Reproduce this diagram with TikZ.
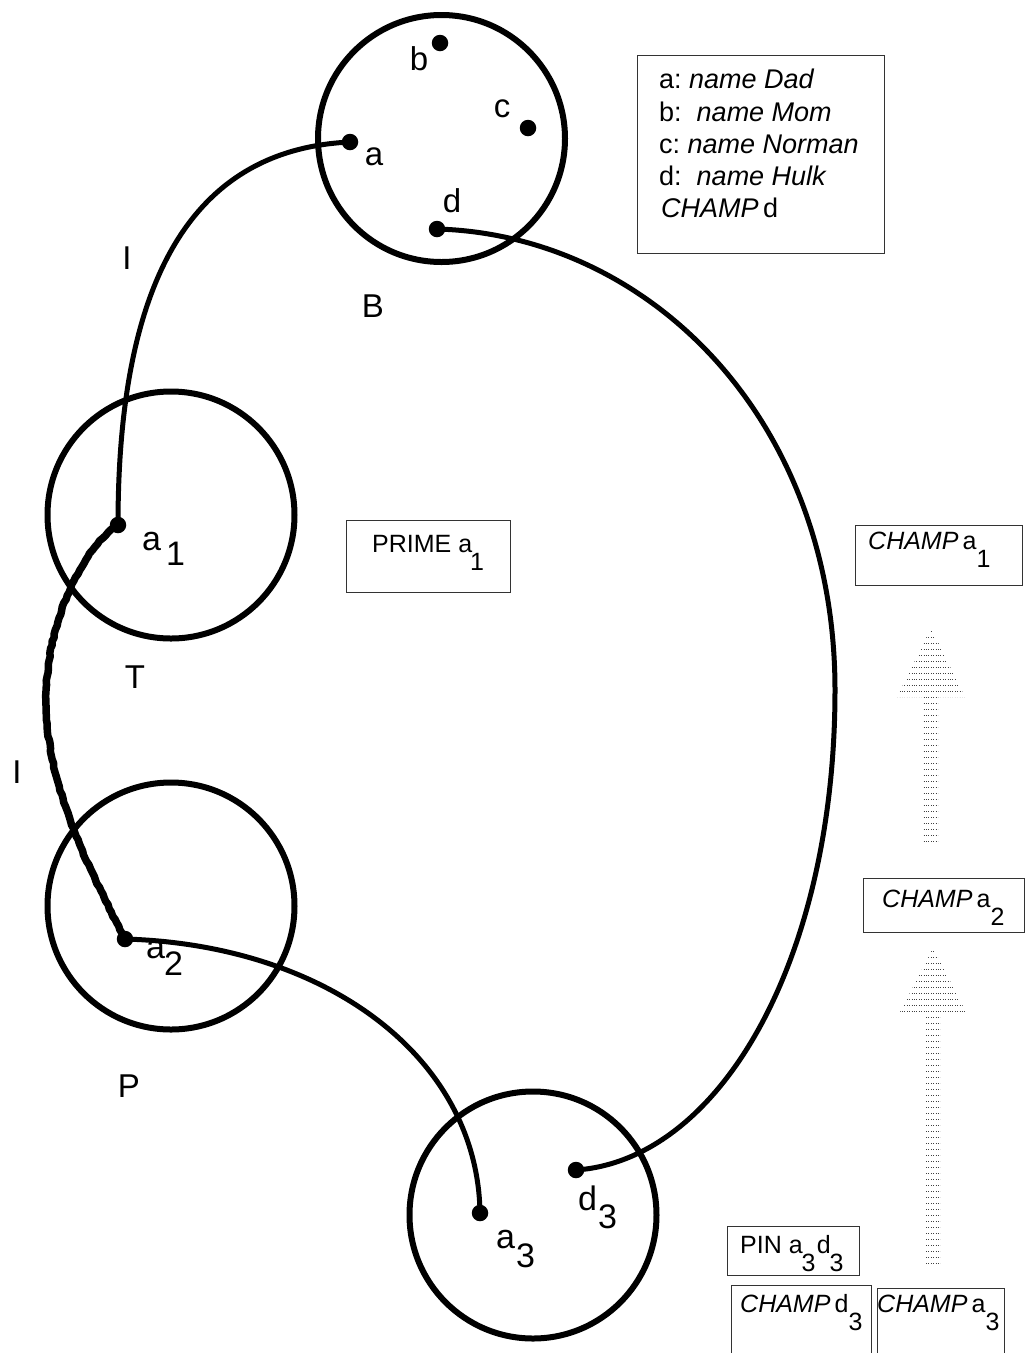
\documentclass[tikz,border=0pt]{standalone}
\usepackage{fontspec}
\setmainfont{Liberation Sans}
\usetikzlibrary{decorations.pathmorphing}
\newcommand\mybsub[1]{\raisebox{-0.75em}{#1}}
\begin{document}
\begin{tikzpicture}[x=1pt,y=-1pt,
  ring/.style={circle,draw,line width=6pt,minimum size=247pt,inner sep=0pt},
  blob/.style={circle,fill,inner sep=0pt,minimum size=16.5pt},
  lbl/.style={font=\fontsize{33}{38}\selectfont,inner sep=0pt,anchor=base},
  lbls/.style={font=\fontsize{34}{40}\selectfont,inner sep=0pt,anchor=base west},
  bxt/.style={font=\fontsize{25}{30}\selectfont,inner sep=0pt,anchor=base west},
  lgt/.style={font=\fontsize{27}{30}\selectfont,inner sep=0pt,anchor=base west},
  frame/.style={draw=black!80,line width=1.3pt,inner sep=0pt,anchor=north west},
  conn/.style={line width=5pt},
  dotrow/.style={black!75,line width=0.9pt,dash pattern=on 0.9pt off 1.5pt},
]
\useasboundingbox (0,0) rectangle (1025,1353);

% circles
\node[ring] (B) at (441.5,138.5) {};
\node[ring] (T) at (171,515) {};
\node[ring] (P) at (171,906) {};
\node[ring] (Q) at (533,1215) {};

% points
\node[blob] (b) at (440,43) {};
\node[blob] (c) at (528,128) {};
\node[blob] (a) at (350,142) {};
\node[blob] (d) at (437,229) {};
\node[blob] (a1) at (118,525) {};
\node[blob] (a2) at (125,939) {};
\node[blob] (a3) at (480,1213) {};
\node[blob] (d3) at (576,1170) {};

% connectors
\draw[conn] (a.center) .. controls (180,150) and (118,300) .. (a1.center);
\pgfmathsetseed{7}
\draw[conn,line width=7.5pt,line join=round,decorate,decoration={random steps,segment length=4pt,amplitude=0.6pt}]
  (a1.center) .. controls (85,545) and (46,620) .. (46,700)
  .. controls (46,790) and (95,880) .. (a2.center);
\draw[conn] (a2.center) .. controls (330,945) and (478,1060) .. (a3.center);
\draw[conn] (d.center) .. controls (650,235) and (835,420) .. (835,690)
  .. controls (835,960) and (720,1160) .. (d3.center);

% labels
\node[lbl] (lb) at (419,70) {b};
\node[lbl] (lc) at (502,117) {c};
\node[lbl] (la) at (374,165) {a};
\node[lbl] (ld) at (452,212) {d};
\node[lbl] (lB) at (373,317) {B};
\node[lbl] (lI1) at (127,269) {I};
\node[lbl] (lI2) at (17,783) {I};
\node[lbl] (lT) at (135,688) {T};
\node[lbl] (lP) at (129,1097) {P};
\node[lbls] (la1) at (142,550) {a\kern5pt\raisebox{-15pt}{1}};
\node[lbls] (la2) at (146,958) {a\kern-1pt\raisebox{-17pt}{2}};
\node[lbls] (la3) at (496,1248) {a\kern1pt\raisebox{-19pt}{3}};
\node[lbls] (ld3) at (578,1210) {d\kern1pt\raisebox{-18pt}{3}};

% legend
\node[frame,minimum width=247pt,minimum height=198pt] (legend) at (637,55) {};
\node[lgt] (l1) at (659,88) {a:\ \textit{name Dad}};
\node[lgt] (l2) at (659,121) {b:\ \ \textit{name Mom}};
\node[lgt] (l3) at (659,153) {c:\ \textit{name Norman}};
\node[lgt] (l4) at (659,185) {d:\ \ \textit{name Hulk}};
\node[lgt] (l5) at (661,217) {\textit{CHAMP}\,d};

% boxes
\node[frame,minimum width=164pt,minimum height=72pt] (primebox) at (346,520) {};
\node[bxt] at (372,552) {PRIME a\kern-2pt\mybsub{1}};
\node[frame,minimum width=167pt,minimum height=60pt] (ch1) at (855,525) {};
\node[bxt] at (868,549) {\textit{CHAMP}\,a\mybsub{1}};
\node[frame,minimum width=161pt,minimum height=54pt] (ch2) at (863,878) {};
\node[bxt] at (882,907) {\textit{CHAMP}\,a\mybsub{2}};
\node[frame,minimum width=132pt,minimum height=49pt] (pin) at (727,1226) {};
\node[bxt] at (740,1253) {PIN a\kern-1pt\mybsub{3}\kern-3pt\,d\kern-1pt\mybsub{3}};
\node[frame,minimum width=140pt,minimum height=90pt] (chd3) at (731,1285) {};
\node[bxt] at (740,1312) {\textit{CHAMP}\,d\mybsub{3}};
\node[frame,minimum width=127pt,minimum height=90pt] (cha3) at (877,1288) {};
\node[bxt] at (877,1312) {\textit{CHAMP}\,a\mybsub{3}};

% dotted arrows
\begin{scope}
\clip (923,842) -- (923,697) -- (897,697) -- (931,628) -- (965,697) -- (938,697) -- (938,842) -- cycle;
\foreach \yy in {631,637,...,842} \draw[dotrow] (890,\yy) -- (972,\yy);
\end{scope}
\begin{scope}
\clip (925,1267) -- (925,1014) -- (899,1014) -- (933,948) -- (967,1014) -- (940,1014) -- (940,1267) -- cycle;
\foreach \yy in {951,957,...,1267} \draw[dotrow] (890,\yy) -- (975,\yy);
\end{scope}
\end{tikzpicture}
\end{document}
